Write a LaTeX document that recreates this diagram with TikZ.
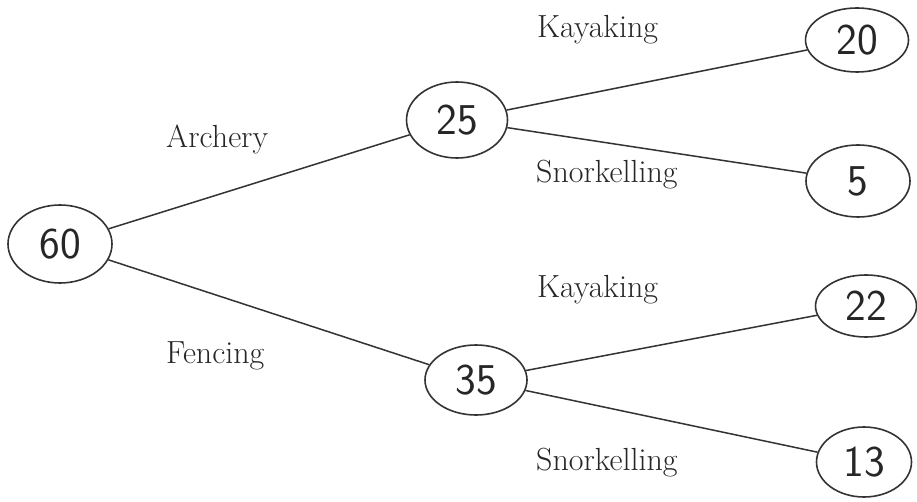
\documentclass[tikz,border=0pt]{standalone}
\usetikzlibrary{shapes.geometric}
\begin{document}
\begin{tikzpicture}[x=1pt,y=-1pt,
  num/.style={ellipse,draw=black!80,line width=1.6pt,inner sep=0pt,
    font=\sffamily\fontsize{44}{44}\selectfont,text=black!85},
  lbl/.style={anchor=base west,inner sep=0pt,text=black!85,
    font=\fontsize{32}{32}\selectfont},
  edge/.style={draw=black!80,line width=1.5pt}]
\useasboundingbox (0,0) rectangle (917,502);
\node[num,minimum width=104pt,minimum height=78pt] (n60) at (60,244) {60};
\node[num,minimum width=101pt,minimum height=76pt] (n25) at (457,120) {25};
\node[num,minimum width=103pt,minimum height=64pt] (n20) at (857,40) {20};
\node[num,minimum width=104pt,minimum height=72pt] (n5) at (858,181) {5};
\node[num,minimum width=102pt,minimum height=70pt] (n35) at (476,380) {35};
\node[num,minimum width=101pt,minimum height=62pt] (n22) at (866,306) {22};
\node[num,minimum width=95pt,minimum height=70pt] (n13) at (864,462) {13};
\draw[edge] (n60) -- (n25);
\draw[edge] (n60) -- (n35);
\draw[edge] (n25) -- (n20);
\draw[edge] (n25) -- (n5);
\draw[edge] (n35) -- (n22);
\draw[edge] (n35) -- (n13);
\node[lbl] (la) at (166,148) {Archery};
\node[lbl] (lf) at (166,363) {Fencing};
\node[lbl] (lk1) at (537,38) {Kayaking};
\node[lbl] (ls1) at (536,183) {Snorkelling};
\node[lbl] (lk2) at (537,298) {Kayaking};
\node[lbl] (ls2) at (536,470) {Snorkelling};
\end{tikzpicture}
\end{document}
